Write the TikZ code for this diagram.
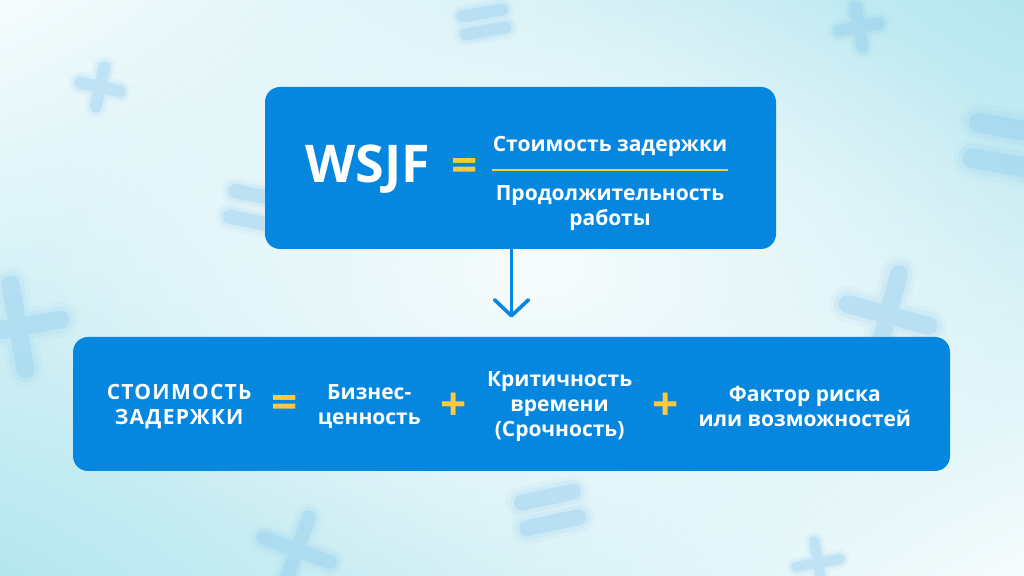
\documentclass[tikz,border=0pt]{standalone}
\usepackage{fontspec}
\setmainfont{Open Sans}
\usetikzlibrary{arrows.meta,positioning,shadings,fadings}
\definecolor{cardblue}{HTML}{0587E0}
\definecolor{accent}{HTML}{FFC83D}
\definecolor{decor}{HTML}{86C6EE}
\definecolor{bgcyan}{HTML}{B4E6EF}
\definecolor{bglight}{HTML}{F6FCFD}
\tikzfading[name=glow,inner color=transparent!0,outer color=transparent!100]

\begin{document}
\begin{tikzpicture}[
  x=0.5pt, y=-0.5pt,
  font=\bfseries,
  every matrix/.style={ampersand replacement=\&,column sep=10pt,nodes={anchor=center}},
  card/.style={fill=cardblue,rounded corners=7.5pt,inner sep=0pt},
  term/.style={text=white,align=center,inner xsep=0pt,font=\bfseries\fontsize{10.5}{12.5}\selectfont},
  caps/.style={term,font=\bfseries\fontsize{10.5}{12.5}\selectfont\addfontfeature{LetterSpace=6}},
  title/.style={text=white,inner sep=0pt,font=\bfseries\fontsize{26}{26}\selectfont},
  op/.style={text=accent,inner sep=0pt,font=\bfseries\fontsize{23}{23}\selectfont},
  fracbar/.style={accent,line width=1pt},
  flow/.style={-{Straight Barb[length=8pt,width=17pt,round]},cardblue,line width=1.8pt,line cap=round,shorten >=9.5pt}]

  % background and blurred signs
  \useasboundingbox (0,0) rectangle (1024,576);
  \shade[upper left=bglight,upper right=bgcyan,lower left=bgcyan,lower right=bglight]
    (0,0) rectangle (1024,576);
  \fill[bglight,path fading=glow] (540,270) ellipse (520 and 330);
  \foreach \px/\py/\r/\L/\t in {100/87/-12/20/12, 859/27/10/20/12, 18/327/10/43/18,
      888/315/-15/42/18, 297/550/-20/35/14, 818/563/10/22/10} {
    \begin{scope}[shift={(\px,\py)},rotate=\r]
      \foreach \w/\o in {2/0.07,1.5/0.12,1/0.28}
        \draw[decor,line width=\w*\t*0.5pt,opacity=\o,line cap=round]
          (-\L,0) -- (\L,0) (0,-\L) -- (0,\L);
    \end{scope}
  }
  \foreach \px/\py/\r/\L/\t/\g in {484/22/10/20/12/9, 262/210/-12/30/14/13,
      1030/150/-10/55/20/18, 550/510/12/26/16/13} {
    \begin{scope}[shift={(\px,\py)},rotate=\r]
      \foreach \w/\o in {2/0.07,1.5/0.12,1/0.28}
        \draw[decor,line width=\w*\t*0.5pt,opacity=\o,line cap=round]
          (-\L,-\g) -- (\L,-\g) (-\L,\g) -- (\L,\g);
    \end{scope}
  }

  % the two cards
  \node[card,minimum width=255.5pt,minimum height=81pt] (wsjfcard) at (520.5,168) {};
  \node[card,minimum width=438.5pt,minimum height=67pt] (costcard) at (511.5,404) {};

  % WSJF formula
  \node[title] (wsjf) at (368,169) {WSJF};
  \node[op] (eqtop) at (465,170) {=};
  \node[term,anchor=base] (num) at (610,152) {Стоимость задержки};
  \node[term] (den) at (610,208) {Продолжительность\\работы};
  \draw[fracbar] ([yshift=-9pt]num.base west) -- ([yshift=-9pt]num.base east);

  % cost of delay
  \matrix (terms) at (509,407) {
    \node[caps] (cod) {СТОИМОСТЬ\\ЗАДЕРЖКИ}; \&
    \node[op] (eqbot) {=}; \&
    \node[term] (value) {Бизнес-\\ценность}; \&
    \node[op] (plusa) {+}; \&
    \node[term] (urgency) {Критичность\\времени\\(Срочность)}; \&
    \node[op] (plusb) {+}; \&
    \node[term] (risk) {Фактор риска\\или возможностей}; \\
  };

  \draw[flow] (wsjfcard.south -| costcard) -- (costcard);
\end{tikzpicture}
\end{document}
